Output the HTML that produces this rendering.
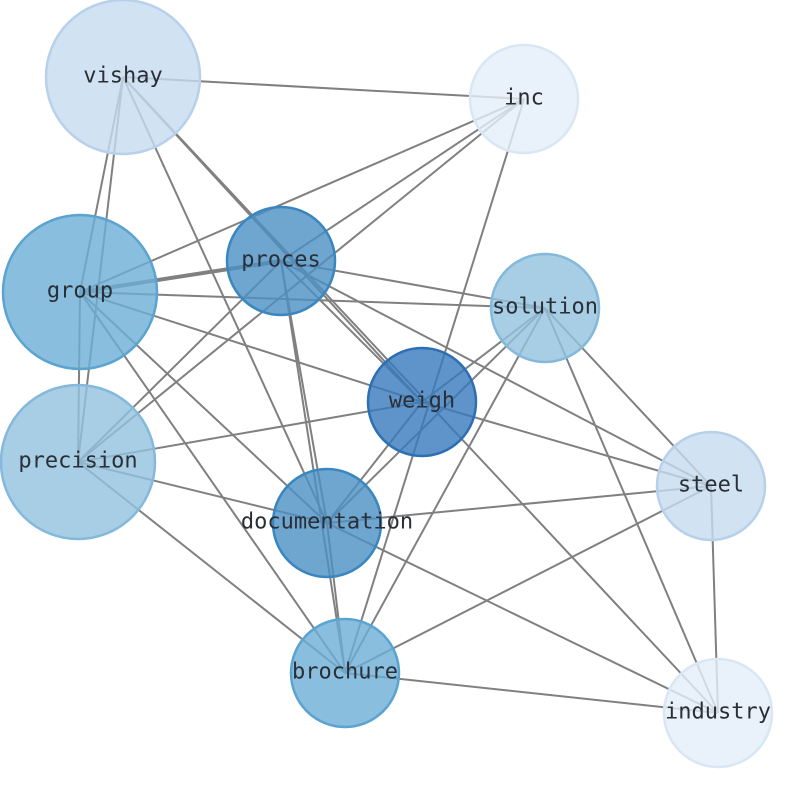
<!DOCTYPE html>
<html><head><meta charset="utf-8"><style>html,body{margin:0;padding:0;background:#fff}</style></head>
<body>
<svg width="794" height="790" viewBox="0 0 794 790" xmlns="http://www.w3.org/2000/svg">
<g stroke="#808080" stroke-width="2" id="edges">
<line x1="123" y1="77" x2="524" y2="99"/>
<line x1="123" y1="77" x2="80" y2="292"/>
<line x1="123" y1="77" x2="78" y2="462"/>
<line x1="123" y1="77" x2="327" y2="523"/>
<line x1="123" y1="77" x2="422" y2="402"/>
<line x1="123" y1="77" x2="718" y2="713"/>
<line x1="524" y1="99" x2="80" y2="292"/>
<line x1="524" y1="99" x2="281" y2="261"/>
<line x1="524" y1="99" x2="78" y2="462"/>
<line x1="524" y1="99" x2="345" y2="673"/>
<line x1="80" y1="292" x2="281" y2="261" stroke-width="4"/>
<line x1="80" y1="292" x2="545" y2="308"/>
<line x1="80" y1="292" x2="422" y2="402"/>
<line x1="80" y1="292" x2="78" y2="462"/>
<line x1="80" y1="292" x2="327" y2="523"/>
<line x1="80" y1="292" x2="345" y2="673"/>
<line x1="281" y1="261" x2="78" y2="462"/>
<line x1="281" y1="261" x2="545" y2="308"/>
<line x1="281" y1="261" x2="711" y2="486"/>
<line x1="281" y1="261" x2="327" y2="523"/>
<line x1="281" y1="261" x2="345" y2="673"/>
<line x1="281" y1="261" x2="422" y2="402"/>
<line x1="545" y1="308" x2="422" y2="402"/>
<line x1="545" y1="308" x2="327" y2="523"/>
<line x1="545" y1="308" x2="345" y2="673"/>
<line x1="545" y1="308" x2="711" y2="486"/>
<line x1="545" y1="308" x2="718" y2="713"/>
<line x1="422" y1="402" x2="78" y2="462"/>
<line x1="422" y1="402" x2="711" y2="486"/>
<line x1="422" y1="402" x2="327" y2="523"/>
<line x1="78" y1="462" x2="327" y2="523"/>
<line x1="78" y1="462" x2="345" y2="673"/>
<line x1="711" y1="486" x2="327" y2="523"/>
<line x1="711" y1="486" x2="345" y2="673"/>
<line x1="711" y1="486" x2="718" y2="713"/>
<line x1="327" y1="523" x2="718" y2="713"/>
<line x1="327" y1="523" x2="345" y2="673"/>
<line x1="345" y1="673" x2="718" y2="713"/>
</g>
<g stroke-width="2.5">
<circle cx="123" cy="77" r="77" fill="#c6dbef" fill-opacity="0.8" stroke="#b7d1ea"/>
<circle cx="524" cy="99" r="54" fill="#e4eef9" fill-opacity="0.8" stroke="#d9e7f5"/>
<circle cx="80" cy="292" r="77" fill="#6baed6" fill-opacity="0.8" stroke="#5ba3d0"/>
<circle cx="281" cy="261" r="54" fill="#4a90c4" fill-opacity="0.8" stroke="#3a86c0"/>
<circle cx="545" cy="308" r="54" fill="#92c2df" fill-opacity="0.8" stroke="#84b9dc"/>
<circle cx="422" cy="402" r="54" fill="#3679bb" fill-opacity="0.8" stroke="#2d6fb2"/>
<circle cx="78" cy="462" r="77" fill="#92c2df" fill-opacity="0.8" stroke="#84b9dc"/>
<circle cx="711" cy="486" r="54" fill="#c6dbef" fill-opacity="0.8" stroke="#b7d1ea"/>
<circle cx="327" cy="523" r="54" fill="#4a90c4" fill-opacity="0.8" stroke="#3a86c0"/>
<circle cx="345" cy="673" r="54" fill="#6baed6" fill-opacity="0.8" stroke="#5ba3d0"/>
<circle cx="718" cy="713" r="54" fill="#e4eef9" fill-opacity="0.8" stroke="#d9e7f5"/>
</g>
<g font-family="'DejaVu Sans Mono','Liberation Mono',monospace" font-size="22" fill="#2a2f36" text-anchor="middle" dominant-baseline="central">
<text x="123" y="76">vishay</text>
<text x="524" y="98">inc</text>
<text x="80" y="291">group</text>
<text x="281" y="260">proces</text>
<text x="545" y="307">solution</text>
<text x="422" y="401">weigh</text>
<text x="78" y="461">precision</text>
<text x="711" y="485">steel</text>
<text x="327" y="522">documentation</text>
<text x="345" y="672">brochure</text>
<text x="718" y="712">industry</text>
</g>
</svg>
</body></html>
